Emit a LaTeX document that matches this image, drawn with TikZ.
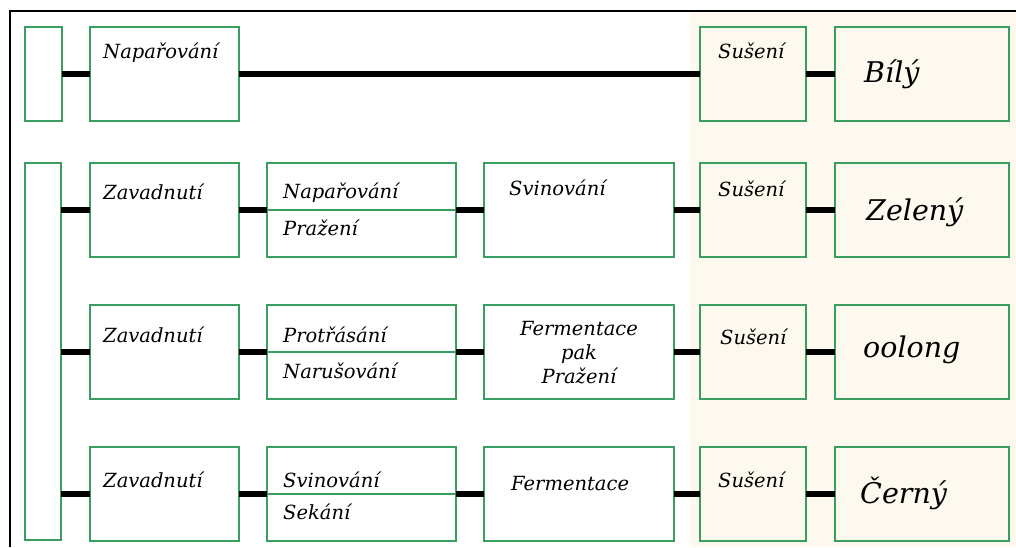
\documentclass[tikz,border=0pt]{standalone}
\usepackage{fontspec}
\setmainfont{DejaVu Serif}
\usetikzlibrary{positioning}

\definecolor{boxgreen}{RGB}{58,158,96}
\definecolor{paper}{RGB}{254,249,239}

\tikzset{
  stage/.style={draw=boxgreen, line width=2pt, inner sep=0pt, outer sep=0pt,
    minimum height=94pt},
  colA/.style={stage, minimum width=149pt},
  colB/.style={stage, minimum width=189pt},
  colC/.style={stage, minimum width=190pt},
  colD/.style={stage, minimum width=106pt},
  colE/.style={stage, minimum width=174pt},
  lbl/.style={inner sep=0pt, anchor=base west, font=\fontsize{19.5}{24}\selectfont\itshape},
  biglbl/.style={lbl, font=\fontsize{28.5}{32}\selectfont\itshape},
  divider/.style={draw=boxgreen, line width=1.3pt}
}

\begin{document}
\begin{tikzpicture}[x=1pt, y=-1pt, node distance=28pt]
  \useasboundingbox (0,0) rectangle (1016,547);
  \fill[white] (0,0) rectangle (1016,547);
  \fill[paper] (690,12) rectangle (1016,547);
  \draw[line width=2pt] (10,547) -- (10,11) -- (1016,11);

  \begin{scope}[every node/.style={anchor=north west}]
    % white tea
    \node (bar1) [stage, minimum width=37pt] at (25,27) {};
    \node (nap1) [colA] at (90,27) {};
    \node (sus1) [colD, right=461pt of nap1] {};
    \node (bily) [colE, right=29pt of sus1] {};
    % the other three
    \node (bar2) [stage, minimum width=36pt, minimum height=377pt] at (25,163) {};
    \node (zav2) [colA] at (90,163) {};
    \node (nap2) [colB, right=of zav2] {};
    \node (svi2) [colC, right=of nap2] {};
    \node (sus2) [colD, right=26pt of svi2] {};
    \node (zel) [colE, right=29pt of sus2] {};
    \node (zav3) [colA] at (90,305) {};
    \node (pro3) [colB, right=of zav3] {};
    \node (fer3) [colC, right=of pro3] {};
    \node (sus3) [colD, right=26pt of fer3] {};
    \node (ool) [colE, right=29pt of sus3] {};
    \node (zav4) [colA] at (90,447) {};
    \node (svi4) [colB, right=of zav4] {};
    \node (fer4) [colC, right=of svi4] {};
    \node (sus4) [colD, right=26pt of fer4] {};
    \node (cer) [colE, right=29pt of sus4] {};
  \end{scope}

  \draw[divider] (nap2.west) -- (nap2.east);
  \draw[divider] (pro3.west) -- (pro3.east);
  \draw[divider] (svi4.west) -- (svi4.east);

  \begin{scope}[every edge/.style={draw=black, line width=5.5pt}]
    \path (bar1) edge (nap1);
    \path (nap1) edge (sus1);
    \path (sus1) edge (bily);
    \path (bar2.east |- zav2) edge (zav2);
    \path (zav2) edge (nap2);
    \path (nap2) edge (svi2);
    \path (svi2) edge (sus2);
    \path (sus2) edge (zel);
    \path (bar2.east |- zav3) edge (zav3);
    \path (zav3) edge (pro3);
    \path (pro3) edge (fer3);
    \path (fer3) edge (sus3);
    \path (sus3) edge (ool);
    \path (bar2.east |- zav4) edge (zav4);
    \path (zav4) edge (svi4);
    \path (svi4) edge (fer4);
    \path (fer4) edge (sus4);
    \path (sus4) edge (cer);
  \end{scope}

  % labels
  \node (tnap1) [lbl] at ([shift={(13,31)}]nap1.north west) {Napařování};
  \node (tsus1) [lbl] at ([shift={(18,31)}]sus1.north west) {Sušení};
  \node (tbily) [biglbl] at ([shift={(29,55)}]bily.north west) {Bílý};

  \node (tzav2) [lbl] at ([shift={(13,36)}]zav2.north west) {Zavadnutí};
  \node (tnap2) [lbl] at ([shift={(16,35)}]nap2.north west) {Napařování};
  \node (tpra2) [lbl] at ([shift={(16,72)}]nap2.north west) {Pražení};
  \node (tsvi2) [lbl] at ([shift={(25,32)}]svi2.north west) {Svinování};
  \node (tsus2) [lbl] at ([shift={(18,33)}]sus2.north west) {Sušení};
  \node (tzel) [biglbl] at ([shift={(31,57)}]zel.north west) {Zelený};

  \node (tzav3) [lbl] at ([shift={(13,37)}]zav3.north west) {Zavadnutí};
  \node (tpro3) [lbl] at ([shift={(16,37)}]pro3.north west) {Protřásání};
  \node (tnar3) [lbl] at ([shift={(16,73)}]pro3.north west) {Narušování};
  \node (tfer3) [lbl, anchor=center, align=center, font=\fontsize{19.5}{24}\selectfont\itshape]
    at ([yshift=-1]fer3.center) {Fermentace\\pak\\Pražení};
  \node (tsus3) [lbl] at ([shift={(20,39)}]sus3.north west) {Sušení};
  \node (tool) [biglbl] at ([shift={(28,52)}]ool.north west) {oolong};

  \node (tzav4) [lbl] at ([shift={(13,40)}]zav4.north west) {Zavadnutí};
  \node (tsvi4) [lbl] at ([shift={(16,40)}]svi4.north west) {Svinování};
  \node (tsek4) [lbl] at ([shift={(16,72)}]svi4.north west) {Sekání};
  \node (tfer4) [lbl] at ([shift={(27,43)}]fer4.north west) {Fermentace};
  \node (tsus4) [lbl] at ([shift={(18,40)}]sus4.north west) {Sušení};
  \node (tcer) [biglbl] at ([shift={(25,56)}]cer.north west) {Černý};
\end{tikzpicture}
\end{document}
